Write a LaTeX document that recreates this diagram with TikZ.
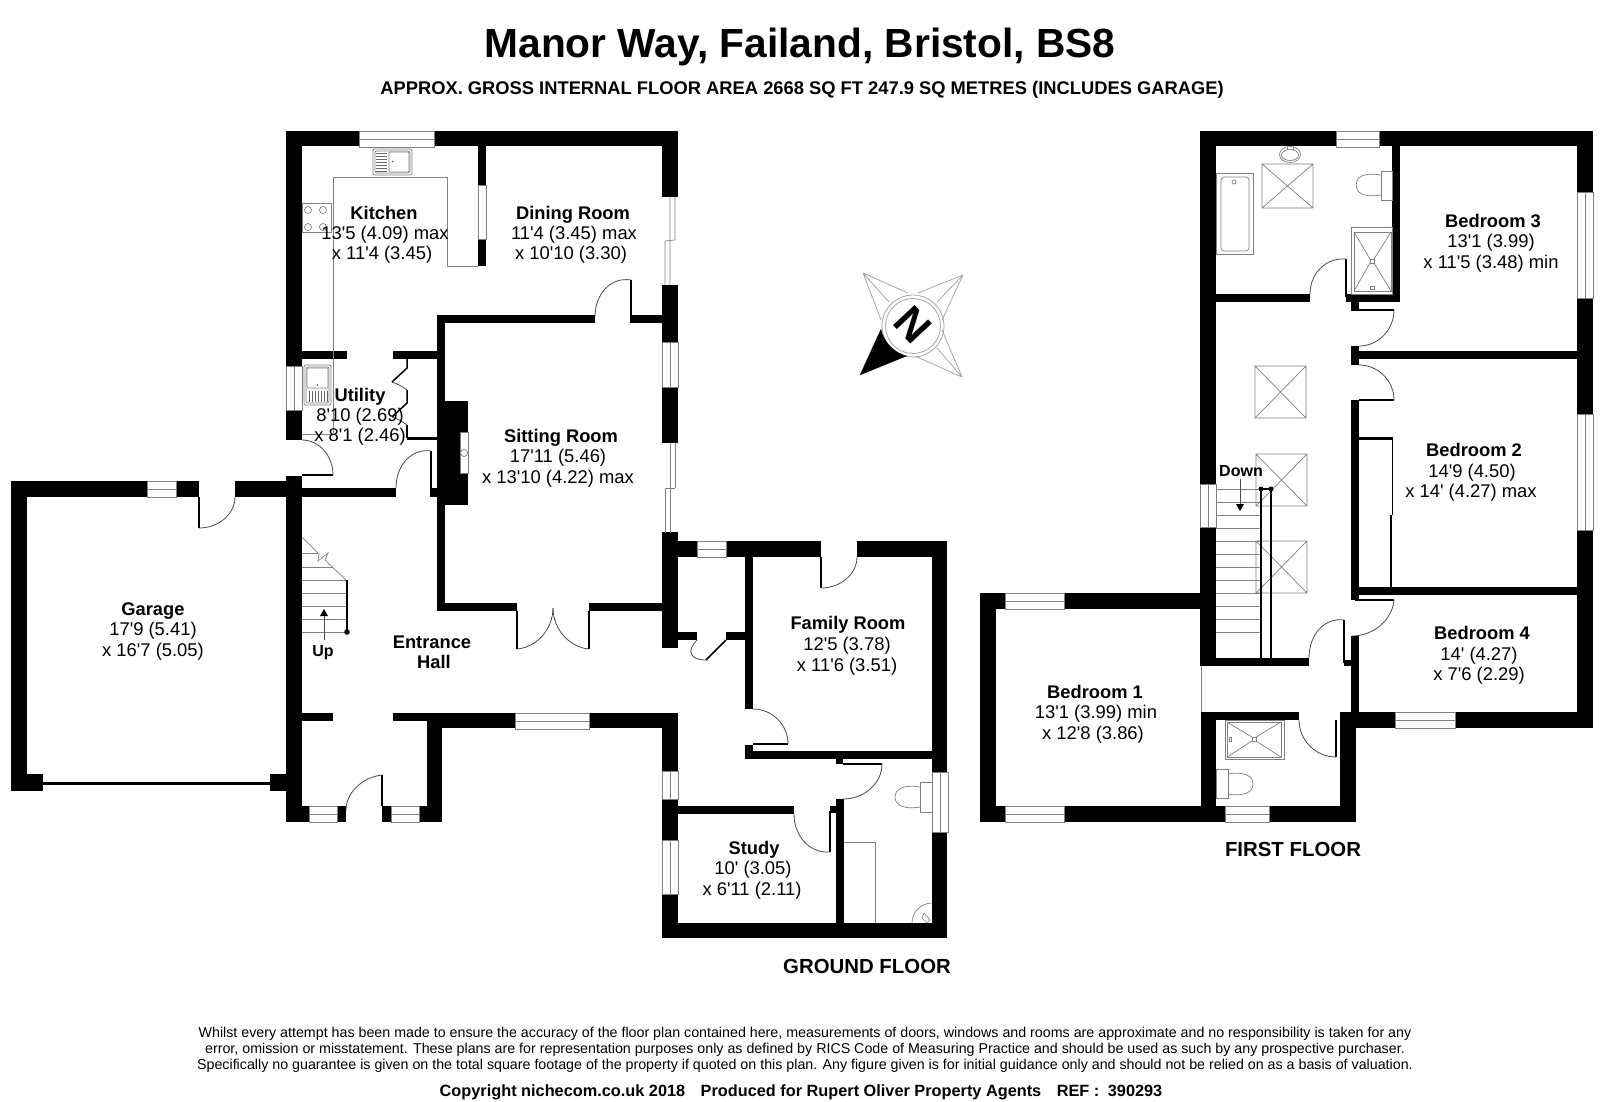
\documentclass[tikz,border=0pt]{standalone}
\usepackage{fontspec}
\usetikzlibrary{calc}
\newfontfamily\lib{Liberation Sans}
\newcommand\fs[1]{\fontsize{#1}{#1}\selectfont}
\tikzset{
  x=1pt,y=-1pt,
  thin grey/.style={draw=black!50,line width=0.7pt},
  leaf/.style={draw=black,line width=1.5pt},
  swing/.style={draw=black!70,line width=0.8pt},
  rail/.style={draw=black,line width=2.4pt},
  roomname/.style={font=\lib\bfseries\fs{18.3},inner sep=0pt,anchor=base,yshift=-6.5pt},
  roomdim/.style={font=\lib\fs{18.4},inner sep=0pt,anchor=base,yshift=-6.5pt},
  floorname/.style={font=\lib\bfseries\fs{20.4},inner sep=0pt,anchor=base,yshift=-7.3pt},
  small/.style={font=\lib\fs{14.25},inner sep=0pt,anchor=base,yshift=-5.1pt},
}
\newcommand\wl[4]{\fill[black] (#1,#2) rectangle (#3,#4);}
\newcommand\winh[3]{\fill[white] (#1,#3) rectangle (#2,#3+16);\draw[thin grey] (#1,#3) rectangle (#2,#3+16) (#1,#3+8) -- (#2,#3+8);}
\newcommand\winv[3]{\fill[white] (#1,#2) rectangle (#1+16,#3);\draw[thin grey] (#1,#2) rectangle (#1+16,#3) (#1+8,#2) -- (#1+8,#3);}
\newcommand\door[6]{\coordinate (H) at (#1,#2);\coordinate (A) at (#3,#4);\coordinate (B) at (#5,#6);
  \draw[leaf] (H) -- (A);
  \draw[swing] (A) .. controls ($(A)+0.55*(B)-0.55*(H)$) and ($(B)+0.55*(A)-0.55*(H)$) .. (B);}
\newcommand\cross[4]{\draw[thin grey] (#1,#2) rectangle (#3,#4) (#1,#2) -- (#3,#4) (#1,#4) -- (#3,#2);}
\begin{document}
\begin{tikzpicture}
\useasboundingbox (0,0) rectangle (1600,1101);
\fill[white] (0,0) rectangle (1600,1101);
% ===== GROUND FLOOR walls
\wl{286}{131}{678}{146}
\wl{286}{131}{302}{440}
\wl{286}{476}{302}{822}
\wl{662}{131}{678}{197}
\wl{662}{285}{678}{443}
\wl{662}{532}{678}{648}
\wl{478}{146}{486}{266}
\wl{437}{315}{595}{323}
\wl{631}{315}{662}{323}
\wl{437}{315}{445}{611}
\wl{437}{603}{517}{611}
\wl{589}{603}{662}{611}
\wl{302}{351}{347}{359}
\wl{393}{351}{437}{359}
\wl{407}{437}{437}{440}
\wl{437}{401}{468}{505}
\fill[white] (460,432) rectangle (468,473);
\draw[thin grey] (460,432) rectangle (468,473);
\draw[thin grey] (464,453) circle[radius=3.5];
\wl{302}{488}{396}{497}
\wl{430}{488}{437}{497}
% garage
\wl{11}{481}{199}{497}
\wl{235}{481}{286}{497}
\wl{11}{481}{27}{791}
\wl{11}{774}{43}{791}
\wl{270}{774}{286}{791}
\wl{43}{782}{270}{784.5}
% hall, porch
\wl{302}{713}{333}{721}
\wl{393}{713}{442}{721}
\wl{427}{713}{442}{822}
\wl{442}{713}{678}{728}
\wl{286}{806}{346}{822}
\wl{382}{806}{442}{822}
% rear wing
\wl{662}{713}{678}{938}
\wl{662}{923}{947}{938}
\wl{932}{541}{947}{938}
\wl{678}{541}{821}{557}
\wl{857}{541}{947}{557}
\wl{745}{557}{753}{709}
\wl{745}{745}{753}{759}
\wl{745}{751}{932}{759}
\wl{678}{632}{697}{640}
\wl{726}{632}{745}{640}
\wl{836}{759}{843}{764}
\wl{836}{799}{844}{923}
\wl{678}{806}{794}{814}
\wl{830}{806}{836}{813}
% windows ground
\winh{359}{434}{131}
\winv{286}{366}{410}
\winv{662}{342}{387}
\winh{147}{176}{481}
\winh{309}{337}{806}
\winh{391}{419}{806}
\winh{515}{589}{713}
\winh{697}{726}{541}
\winv{662}{771}{799}
\winv{662}{840}{894}
\winv{932}{772}{832}
\fill[white] (478,185) rectangle (486,239);
\draw[thin grey] (478,185) rectangle (486,239);
\draw[thin grey] (670,197) -- (670,240) (675,197) -- (675,240) (675,240) -- (665,241) (665,241) -- (665,285) (670,241) -- (670,285);
\draw[thin grey] (670,443) -- (670,488) (675,443) -- (675,488) (675,488) -- (665,488) (665,488) -- (665,533) (670,488) -- (670,533);
% doors ground
\door{631}{323}{631}{280}{595}{317}
\door{302}{475}{333}{475}{302}{440}
\door{431}{493}{431}{451}{396}{488}
\door{199}{497}{199}{528}{235}{497}
\door{382}{806}{382}{775}{346}{810}
\door{517}{611}{517}{649}{553}{608}
\door{589}{611}{589}{649}{553}{608}
\door{726}{640}{706}{660}{697}{640}
\door{821}{557}{821}{588}{857}{557}
\door{753}{744}{788}{744}{753}{709}
\door{843}{764}{882}{764}{843}{799}
\door{830}{811}{830}{852}{794}{814}
% bifold
\draw[leaf] (407,359) -- (407,368) -- (392,382);
\draw[swing] (392,382) .. controls (398,384) and (403,387) .. (407,390);
\draw[leaf] (407,390) -- (407,403) -- (392,417);
\draw[swing] (392,417) .. controls (398,419) and (403,422) .. (407,425);
\draw[leaf] (407,425) -- (407,438);
% kitchen fittings
\draw[thin grey] (333,177) -- (447,177) -- (447,266) -- (478,266);
\draw[thin grey] (333,177) -- (333,433);
\draw[thin grey] (302,203) rectangle (331,232);
\foreach \cx/\cy in {308/210,323/210,308/227,323/227} \draw[thin grey] (\cx,\cy) circle[radius=3.5];
\draw[thin grey,rounded corners=2pt] (373,149) rectangle (412,175);
\draw[thin grey,rounded corners=2pt] (375,151) rectangle (410,173);
\draw[thin grey,rounded corners=1pt] (389,152) rectangle (409,172);
\foreach \yy in {153,156,159,162,165,168,171} \draw[black!60,line width=0.8pt] (376,\yy) -- (387,\yy);
\fill[black!60] (392.5,161.5) circle[radius=1];
% utility sink
\draw[thin grey,rounded corners=2pt] (304,365) rectangle (331,405);
\draw[thin grey,rounded corners=2pt] (306,367) rectangle (329,403);
\draw[thin grey,rounded corners=1pt] (307,368) rectangle (328,388);
\foreach \xx in {309,312,315,318,321,324,327} \draw[black!60,line width=0.8pt] (\xx,391) -- (\xx,402);
\fill[black!60] (317.5,385) circle[radius=1];
\draw[thin grey] (302,434) -- (333,434);
% stairs ground
\draw[thin grey] (302,553) -- (319,553) (302,567) -- (332,567);
\foreach \yy in {580,593,606,619,632} \draw[thin grey] (302,\yy) -- (346,\yy);
\draw[thin grey] (302,537) -- (319,554) -- (318,561) -- (328,553) -- (325,560) -- (346,580);
\draw[rail] (347,580) -- (347,632);
\fill[black] (347,632) circle[radius=2.8];
\draw[swing] (324,640) -- (324,615);
\fill[black] (324,609) -- (328,616) -- (320,616) -- cycle;
% WC
\draw[thin grey] (920,782) rectangle (932,812);
\draw[thin grey] (920,787) .. controls (902,784) and (895,790) .. (895,797) .. controls (895,804) and (902,810) .. (920,807);
\draw[thin grey] (844,842) -- (875,842) -- (875,923);
\draw[thin grey] (912,923) .. controls (912,912) and (921,903) .. (932,903);
\draw[thin grey] (924,913) -- (930,920) (922,918) -- (927,923) (924,913) -- (922,918) (930,920) -- (927,923);
% ===== FIRST FLOOR walls
\wl{1200}{131}{1593}{146}
\wl{1200}{131}{1216}{666}
\wl{1200}{658}{1309}{666}
\wl{1344}{660}{1351}{666}
\wl{1392}{146}{1400}{302}
\wl{1216}{294}{1310}{302}
\wl{1346}{294}{1400}{302}
\wl{1351}{294}{1359}{311}
\wl{1577}{131}{1593}{192}
\wl{1577}{298}{1593}{414}
\wl{1577}{530}{1593}{728}
\wl{1351}{351}{1577}{359}
\wl{1351}{346}{1359}{365}
\wl{1351}{400}{1359}{600}
\wl{1359}{437}{1393}{440}
\wl{1351}{587}{1577}{595}
\wl{1351}{636}{1359}{712}
\wl{1340}{712}{1593}{728}
\wl{1340}{712}{1356}{822}
\wl{1201}{712}{1299}{720}
\wl{1201}{712}{1216}{822}
\wl{980}{593}{1216}{609}
\wl{980}{593}{996}{822}
\wl{980}{806}{1356}{822}
\draw[thin grey] (1201,666) -- (1201,712);
% windows first
\winh{1336}{1379}{131}
\winv{1577}{192}{298}
\winv{1577}{414}{530}
\winv{1200}{484}{527}
\winh{1005}{1064}{593}
\winh{1005}{1064}{806}
\winh{1225}{1269}{806}
\winh{1395}{1455}{712}
% doors first
\door{1346}{297}{1346}{259}{1310}{294}
\door{1359}{310}{1394}{310}{1359}{346}
\door{1359}{400}{1394}{400}{1359}{365}
\door{1355}{600}{1394}{600}{1352}{636}
\door{1344}{663}{1344}{620}{1309}{658}
\door{1336}{720}{1336}{757}{1299}{720}
% wardrobe sliding doors
\draw[leaf] (1392.5,440) -- (1392.5,515) (1391,515) -- (1391,588);
% skylights
\cross{1262}{164}{1313}{208}
\cross{1255}{366}{1306}{418}
\cross{1256}{454}{1307}{506}
\cross{1256}{541}{1307}{593}
% bathroom fittings
\draw[thin grey] (1216,173) rectangle (1253,254);
\draw[thin grey,rounded corners=3pt] (1221,177) rectangle (1249,251);
\draw[thin grey] (1234,182) circle[radius=2];
\draw[thin grey] (1290,154.5) ellipse[x radius=10.5,y radius=8];
\draw[thin grey] (1290,155) ellipse[x radius=8.5,y radius=5.5];
\draw[thin grey] (1287,147) -- (1287,150) (1293,147) -- (1293,150);
\draw[thin grey] (1381,171) rectangle (1392,200);
\draw[thin grey] (1381,175) .. controls (1362,172) and (1356,178) .. (1356,185) .. controls (1356,192) and (1362,198) .. (1381,195);
\draw[thin grey] (1351,227) rectangle (1392,294);
\draw[thin grey] (1354,232) rectangle (1391,291);
\draw[thin grey] (1354,232) -- (1370,259) (1391,232) -- (1374,259) (1354,291) -- (1370,263) (1391,291) -- (1374,263);
\draw[thin grey] (1370,259) rectangle (1374,263);
\draw[thin grey] (1370,286) rectangle (1374,289);
% stairs first
\foreach \yy in {489,502,515,528,541,554,567,580,593,606,619,632} \draw[thin grey] (1216,\yy) -- (1260,\yy);
\draw[rail] (1261,489) -- (1261,658) (1271,489) -- (1271,658) (1261,489) -- (1271,489);
\fill[black] (1261,489) circle[radius=2.5] (1271,489) circle[radius=2.5];
\draw[swing] (1240,479) -- (1240,504);
\fill[black] (1240,511) -- (1236,504) -- (1244,504) -- cycle;
% ensuite
\draw[thin grey] (1225,720) rectangle (1284,759);
\draw[thin grey] (1227,722) rectangle (1281,757);
\draw[thin grey] (1227,722) -- (1252,737) (1281,722) -- (1256,737) (1227,757) -- (1252,741) (1281,757) -- (1256,741);
\draw[thin grey] (1252,737) rectangle (1256,741);
\draw[thin grey] (1229,737) rectangle (1231,741);
\draw[thin grey] (1216,769) rectangle (1228,798);
\draw[thin grey] (1228,774) .. controls (1246,771) and (1253,777) .. (1253,784) .. controls (1253,791) and (1246,797) .. (1228,794);
% compass
\begin{scope}[draw=black!35,line width=0.8pt]
\draw (863,273) -- (881,320) (863,273) -- (908,293) (863,273) -- (889,302);
\draw (963,275) -- (918,293) (963,275) -- (942,320) (963,275) -- (937,302);
\draw (962,377) -- (942,330) (962,377) -- (915,356) (962,377) -- (937,348);
\draw (860,375) -- (881,329) (860,375) -- (907,355);
\draw (913,326) circle[radius=31];
\draw (913,326) circle[radius=27.5];
\end{scope}
\fill[black] (860,375) -- (881,329) .. controls (884,343) and (895,353) .. (907,356) -- cycle;
\node[font=\lib\bfseries\fs{43},inner sep=0pt,rotate=-47] (compassN) at (913,325) {N};
% ===== TEXT
\node[font=\lib\bfseries\fs{40.7},inner sep=0pt,anchor=base,yshift=-14.5pt] (title) at (800,43) {Manor Way, Failand, Bristol, BS8};
\node[font=\lib\bfseries\fs{18.33},inner sep=0pt,anchor=base,yshift=-6.5pt] (subtitle) at (802,88) {APPROX. GROSS INTERNAL FLOOR AREA 2668 SQ FT 247.9 SQ METRES (INCLUDES GARAGE)};
\node[roomname] (kitchen) at (384,213) {Kitchen};
\node[roomdim] (kitchenA) at (385,233) {13'5 (4.09) max};
\node[roomdim] (kitchenB) at (382,253) {x 11'4 (3.45)};
\node[roomname] (dining) at (573,213) {Dining Room};
\node[roomdim] (diningA) at (574,233) {11'4 (3.45) max};
\node[roomdim] (diningB) at (571,253) {x 10'10 (3.30)};
\node[roomname] (utility) at (360,395) {Utility};
\node[roomdim] (utilityA) at (360,415) {8'10 (2.69)};
\node[roomdim] (utilityB) at (360,435) {x 8'1 (2.46)};
\node[roomname] (sitting) at (561,436) {Sitting Room};
\node[roomdim] (sittingA) at (558,456) {17'11 (5.46)};
\node[roomdim] (sittingB) at (558,477) {x 13'10 (4.22) max};
\node[roomname] (garage) at (153,609) {Garage};
\node[roomdim] (garageA) at (153,629) {17'9 (5.41)};
\node[roomdim] (garageB) at (153,650) {x 16'7 (5.05)};
\node[roomname] (up) at (323,650) {\fs{16}Up};
\node[roomname] (hallA) at (432,642) {Entrance};
\node[roomname] (hallB) at (434,662) {Hall};
\node[roomname] (family) at (848,623) {Family Room};
\node[roomdim] (familyA) at (847,644) {12'5 (3.78)};
\node[roomdim] (familyB) at (847,665) {x 11'6 (3.51)};
\node[roomname] (study) at (754,848) {Study};
\node[roomdim] (studyA) at (753,868) {10' (3.05)};
\node[roomdim] (studyB) at (752,889) {x 6'11 (2.11)};
\node[roomname] (bedthree) at (1493,221) {Bedroom 3};
\node[roomdim] (bedthreeA) at (1491,241) {13'1 (3.99)};
\node[roomdim] (bedthreeB) at (1491,262) {x 11'5 (3.48) min};
\node[roomname] (bedtwo) at (1474,450) {Bedroom 2};
\node[roomdim] (bedtwoA) at (1472,471) {14'9 (4.50)};
\node[roomdim] (bedtwoB) at (1471,491) {x 14' (4.27) max};
\node[roomname] (bedfour) at (1482,633) {Bedroom 4};
\node[roomdim] (bedfourA) at (1479,654) {14' (4.27)};
\node[roomdim] (bedfourB) at (1479,674) {x 7'6 (2.29)};
\node[roomname] (bedone) at (1095,692) {Bedroom 1};
\node[roomdim] (bedoneA) at (1096,712) {13'1 (3.99) min};
\node[roomdim] (bedoneB) at (1093,733) {x 12'8 (3.86)};
\node[roomname] (down) at (1241,470) {\fs{16}Down};
\node[floorname] (firstfloor) at (1293,849) {FIRST FLOOR};
\node[floorname] (groundfloor) at (867,966) {GROUND FLOOR};
\node[small] (lineA) at (805,1032) {Whilst every attempt has been made to ensure the accuracy of the floor plan contained here, measurements of doors, windows and rooms are approximate and no responsibility is taken for any};
\node[small] (lineB) at (805,1048) {error, omission or misstatement. These plans are for representation purposes only as defined by RICS Code of Measuring Practice and should be used as such by any prospective purchaser.};
\node[small] (lineC) at (805,1064) {Specifically no guarantee is given on the total square footage of the property if quoted on this plan. Any figure given is for initial guidance only and should not be relied on as a basis of valuation.};
\node[font=\lib\bfseries\fs{16.3},inner sep=0pt,anchor=base,yshift=-5.7pt] (copyright) at (801,1091) {Copyright nichecom.co.uk 2018\hspace{11pt} Produced for Rupert Oliver Property Agents\hspace{11pt} REF :\hspace{4pt} 390293};
\end{tikzpicture}
\end{document}
